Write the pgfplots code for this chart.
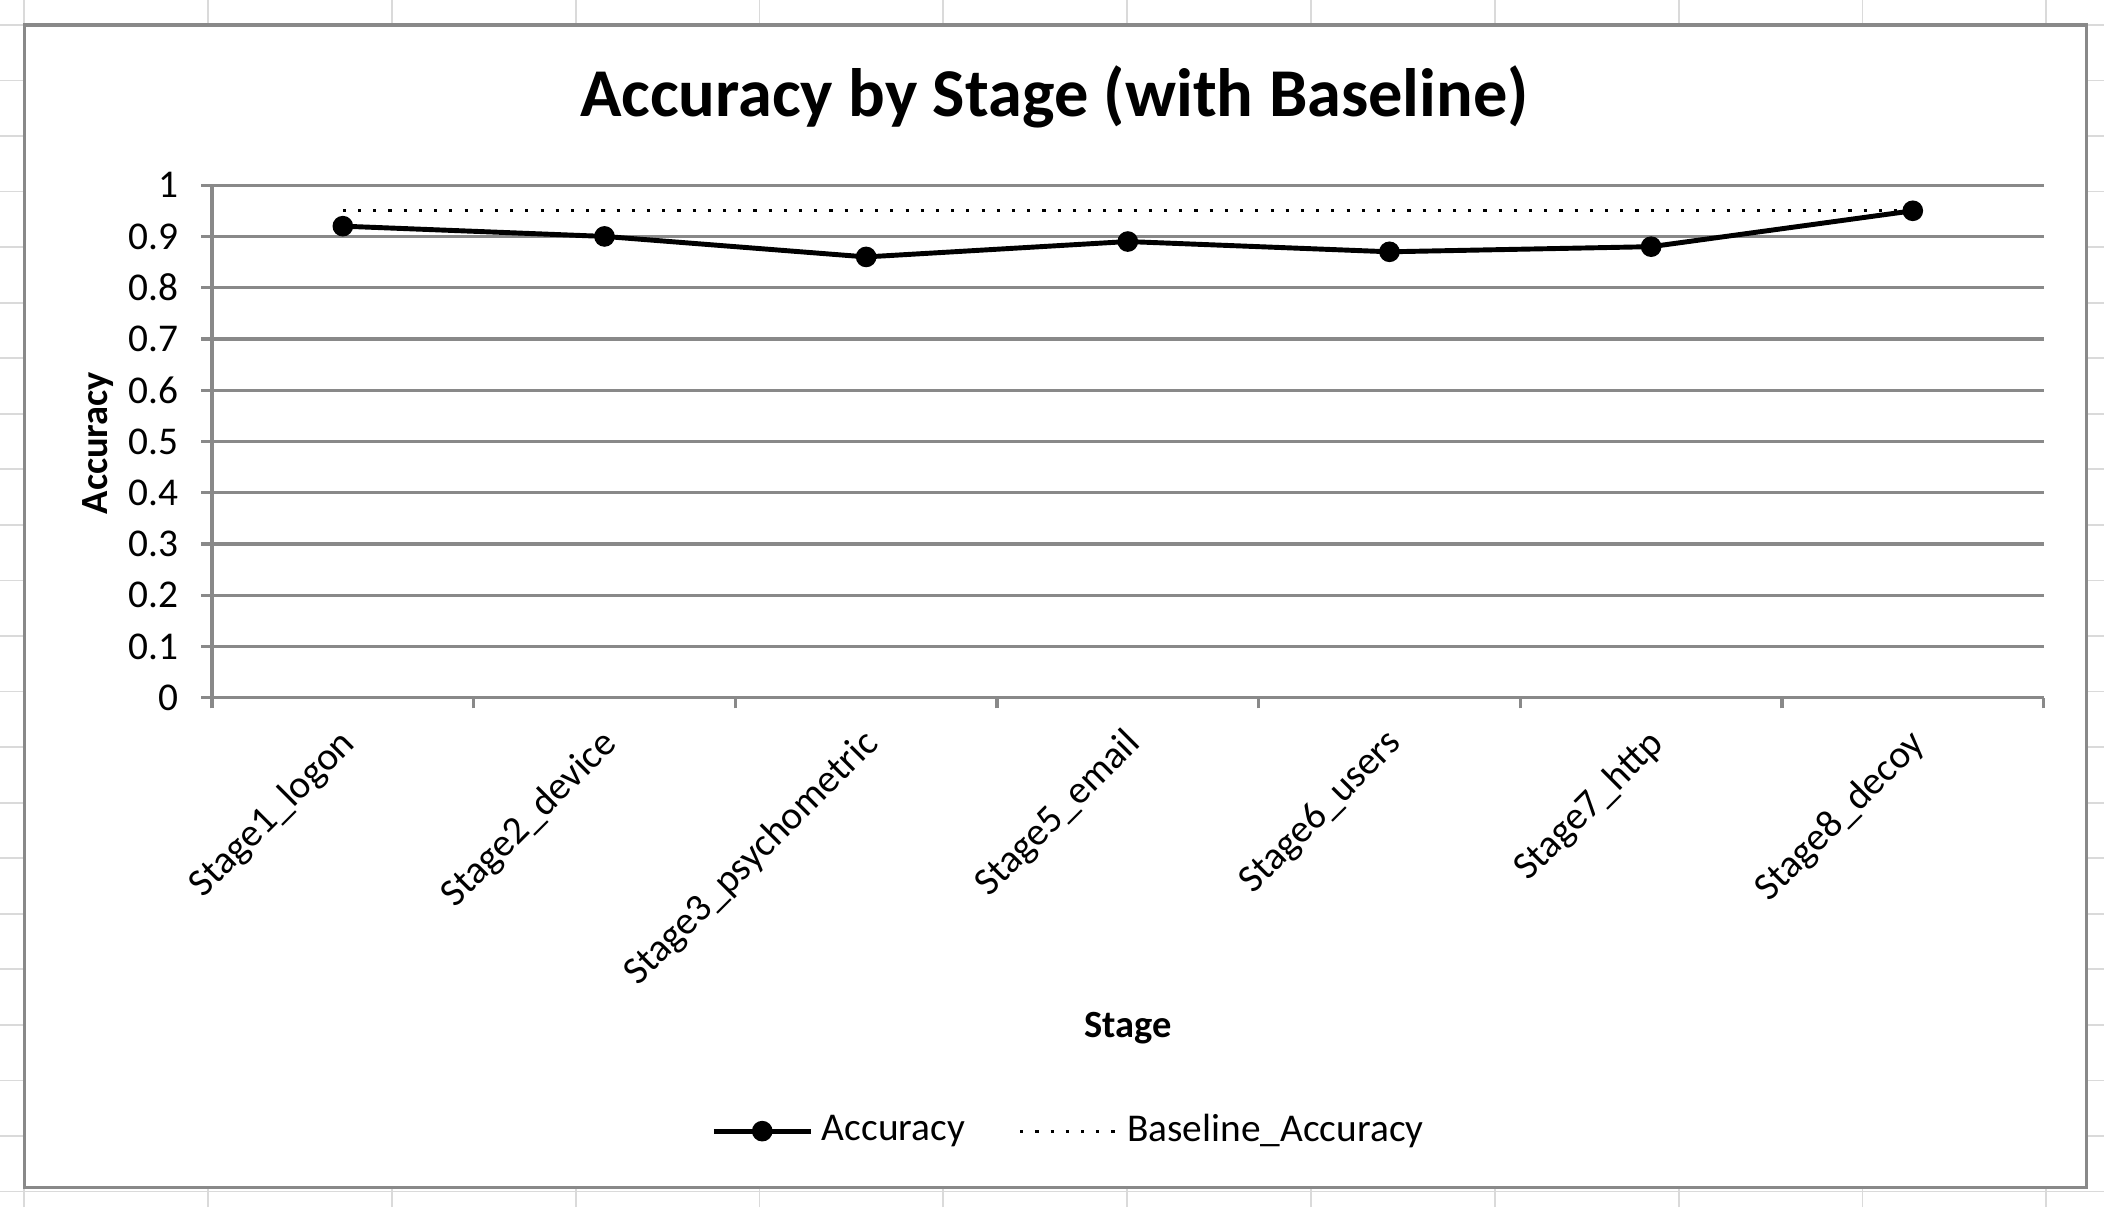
\documentclass[border=0pt]{standalone}
\usepackage{pgfplots}
\pgfplotsset{compat=1.18}
\usepackage{fontspec}
\setmainfont{Carlito}
\definecolor{gridgray}{HTML}{898989}
\definecolor{cellgray}{HTML}{DADADA}
\begin{document}
\begin{tikzpicture}
\useasboundingbox (0,0) rectangle (470.4pt,269.88pt);
\foreach \k in {0,...,11} \draw[cellgray, line width=0.4pt] ({5.4pt+\k*41.1pt},0pt) -- ({5.4pt+\k*41.1pt},269.88pt);
\foreach \k in {0,...,21} \draw[cellgray, line width=0.4pt] (0pt,{264.3pt-\k*12.42pt}) -- (470.4pt,{264.3pt-\k*12.42pt});
\fill[white] (5.4pt,4.3pt) rectangle (466.5pt,264.3pt);
\draw[gridgray, line width=0.7pt] (5.4pt,4.3pt) rectangle (466.5pt,264.3pt);
\begin{axis}[
  at={(47.4pt,113.88pt)}, anchor=south west,
  scale only axis, width=409.5pt, height=114.6pt,
  xmin=-0.5, xmax=6.5, ymin=0, ymax=1,
  ytick={0,0.1,0.2,0.3,0.4,0.5,0.6,0.7,0.8,0.9,1},
  xtick={0,1,2,3,4,5,6},
  xticklabels={Stage1\_logon,Stage2\_device,Stage3\_psychometric,Stage5\_email,Stage6\_users,Stage7\_http,Stage8\_decoy},
  minor xtick={-0.5,0.5,1.5,2.5,3.5,4.5,5.5,6.5},
  axis x line*=bottom, axis y line*=left,
  axis line style={gridgray, line width=0.7pt, -},
  ymajorgrids, major grid style={gridgray, line width=0.7pt},
  tick align=outside,
  major x tick style={draw=none},
  minor x tick style={gridgray, line width=0.7pt},
  major y tick style={gridgray, line width=0.7pt},
  major tick length=2.4pt, minor tick length=2.4pt,
  /pgf/number format/assume math mode=true,
  tick label style={font=\fontsize{8.8}{10}\selectfont, text=black},
  yticklabel style={anchor=east, inner sep=0pt, xshift=-5pt},
  xticklabel style={rotate=45, anchor=north east, inner sep=0pt, xshift=-3.5pt, yshift=-1.7pt},
  title={Accuracy by Stage (with Baseline)},
  every axis title/.style={at={(axis description cs:0.46,1.172)}, anchor=center, font=\fontsize{15.3}{18}\selectfont\bfseries},
  xlabel={Stage},
  every axis x label/.style={at={(axis description cs:0.5,-0.645)}, anchor=center, font=\fontsize{8.6}{10}\selectfont\bfseries},
  ylabel={Accuracy},
  every axis y label/.style={at={(axis description cs:-0.062,0.497)}, rotate=90, anchor=center, font=\fontsize{8.6}{10}\selectfont\bfseries},
  legend style={at={(axis description cs:0.4695,-0.8455)}, anchor=center, draw=none, fill=none,
    legend columns=-1, font=\fontsize{8.8}{10}\selectfont,
    /tikz/every even column/.append style={column sep=10pt}},
  legend cell align=left,
  legend image code/.code={\draw[mark repeat=2,mark phase=2,#1] plot coordinates {(0pt,0pt) (10.8pt,0pt) (21.6pt,0pt)};},
]
\addplot[black, line width=1.1pt, mark=*, mark size=1.75pt, mark options={solid, fill=black}]
  coordinates {(0,0.92) (1,0.90) (2,0.86) (3,0.89) (4,0.87) (5,0.88) (6,0.95)};
\addlegendentry{Accuracy}
\addplot[black, line width=0.7pt, dash pattern=on 0.7pt off 2.7pt]
  coordinates {(0,0.95) (1,0.95) (2,0.95) (3,0.95) (4,0.95) (5,0.95) (6,0.95)};
\addlegendentry{Baseline\_Accuracy}
\end{axis}
\end{tikzpicture}
\end{document}
